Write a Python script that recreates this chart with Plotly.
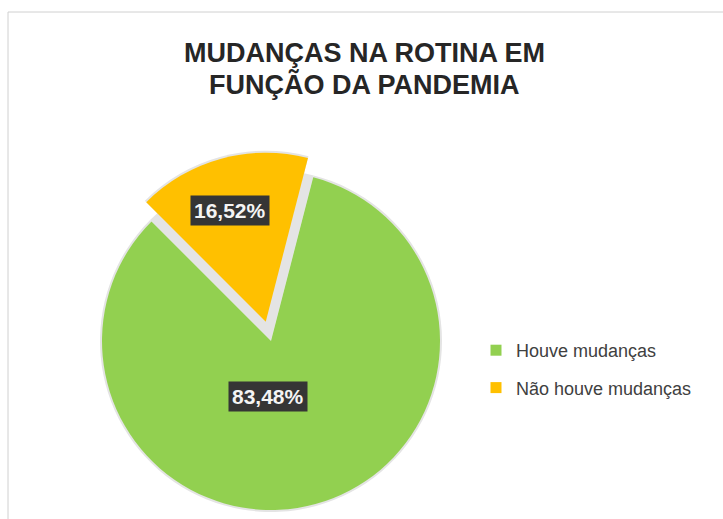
import math
import plotly.graph_objects as go

# Survey result: routine changes due to the pandemic
categories = ["Houve mudanças", "Não houve mudanças"]
shares = [83.48, 16.52]
slice_colors = ["#92D050", "#FFC000"]
title_lines = ["MUDANÇAS NA ROTINA EM", "FUNÇÃO DA PANDEMIA"]

W, H = 723, 519
FONT = "Liberation Sans, Arial, Helvetica, sans-serif"
CLEAR = "rgba(0,0,0,0)"
SHADOW = "#e4e4e4"


def px_domain(cx, cy, r):
    """Square pie domain (paper coords) for a pie centred at pixel (cx, cy) with radius r."""
    return dict(x=[(cx - r) / W, (cx + r) / W], y=[1 - (cy + r) / H, 1 - (cy - r) / H])


def fmt_pct(v):
    return f"{v:.2f}".replace(".", ",") + "%"


# pie placement in pixels; second slice is exploded outwards by PULL_PX
CX, CY, R = 271, 341, 169
PULL_PX = 20
total = sum(shares)
small_frac = shares[1] / total
rotation = 360 * small_frac - 45          # first slice start angle, clockwise from 12 o'clock
mid = math.radians(-45 + 180 * small_frac)  # bisector of the exploded slice
PX = CX + PULL_PX * math.sin(mid)
PY = CY - PULL_PX * math.cos(mid)

common = dict(
    labels=categories,
    values=shares,
    sort=False,
    direction="clockwise",
    rotation=rotation,
    textinfo="none",
    hoverinfo="skip",
    showlegend=False,
)

fig = go.Figure()
# soft grey underlay (shows through the gap left by the exploded slice)
fig.add_trace(go.Pie(marker=dict(colors=[SHADOW, SHADOW], line=dict(width=0)),
                     domain=px_domain(CX, CY, R + 2), **common))
fig.add_trace(go.Pie(marker=dict(colors=[CLEAR, SHADOW], line=dict(width=0)),
                     domain=px_domain(PX, PY, R + 2), **common))
# main slice in place
fig.add_trace(go.Pie(marker=dict(colors=[slice_colors[0], CLEAR], line=dict(width=0)),
                     domain=px_domain(CX, CY, R), **common))
# exploded slice
fig.add_trace(go.Pie(marker=dict(colors=[CLEAR, slice_colors[1]], line=dict(width=0)),
                     domain=px_domain(PX, PY, R), **common))

# legend entries
for cat, col in zip(categories, slice_colors):
    fig.add_trace(go.Scatter(
        x=[None], y=[None], mode="markers", name=cat, legendgroup=cat,
        marker=dict(symbol="square", size=11, color=col, line=dict(width=0)),
        hoverinfo="skip",
    ))

# value labels with dark boxes
label_pos = [(267.5, 396), (230, 210)]
annotations = []
for v, (lx, ly) in zip(shares, label_pos):
    annotations.append(dict(
        x=lx / W, y=1 - ly / H, xref="paper", yref="paper",
        text=fmt_pct(v), showarrow=False, xanchor="center", yanchor="middle",
        font=dict(family=FONT, size=21, color="#f4f4f4", weight="bold"),
        bgcolor="#353535", borderpad=3,
    ))

# two-line title
for line, ty in zip(title_lines, [52.5, 84.5]):
    annotations.append(dict(
        x=364.5 / W, y=1 - ty / H, xref="paper", yref="paper",
        text=f"<b>{line}</b>", showarrow=False, xanchor="center", yanchor="middle",
        font=dict(family=FONT, size=27, color="#262626"),
    ))

fig.update_layout(
    width=W, height=H,
    margin=dict(l=0, r=0, t=0, b=0),
    paper_bgcolor="white", plot_bgcolor="white",
    xaxis=dict(visible=False), yaxis=dict(visible=False),
    annotations=annotations,
    legend=dict(
        x=476 / W, y=1 - 332 / H, xanchor="left", yanchor="top",
        font=dict(family=FONT, size=18, color="#404040"),
        tracegroupgap=11, bgcolor=CLEAR, itemclick=False, itemdoubleclick=False,
    ),
    shapes=[dict(type="rect", xref="paper", yref="paper",
                 x0=8 / W, x1=1.05, y0=-0.05, y1=1 - 12 / H,
                 line=dict(color="#d0d0d0", width=1), layer="below")],
)

fig.write_html("out.html")
